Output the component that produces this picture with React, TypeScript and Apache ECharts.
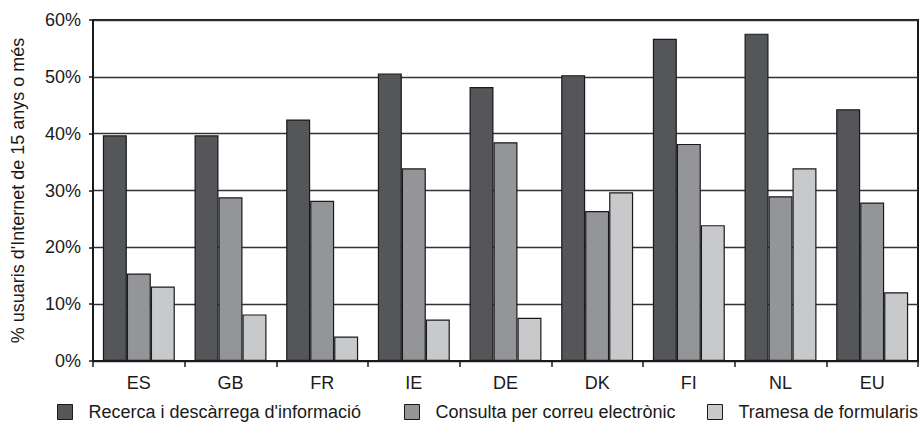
import React, { useEffect, useRef } from "react";
import * as echarts from "echarts";

const categories = ["ES", "GB", "FR", "IE", "DE", "DK", "FI", "NL", "EU"];
const seriesNames = [
  "Recerca i descàrrega d'informació",
  "Consulta per correu electrònic",
  "Tramesa de formularis",
];
const recerca = [39.7, 39.7, 42.5, 50.6, 48.2, 50.3, 56.7, 57.6, 44.3];
const consulta = [15.4, 28.8, 28.2, 33.9, 38.5, 26.4, 38.2, 29.0, 27.9];
const tramesa = [13.1, 8.2, 4.3, 7.3, 7.6, 29.7, 23.9, 33.9, 12.1];
const yTicks = [0, 10, 20, 30, 40, 50, 60];
const yAxisName = "% usuaris d'Internet de 15 anys o més";

const colors = ["#55565a", "#949599", "#c8c9cb"];
const FONT = "'Liberation Sans', Arial, sans-serif";

export default function App() {
  const ref = useRef<HTMLDivElement>(null);
  useEffect(() => {
    if (!ref.current) return;
    const chart = echarts.init(ref.current, null, { renderer: "svg" });
    const values = [recerca, consulta, tramesa];
    const legendLefts = [57, 404, 707];
    chart.setOption({
      animation: false,
      backgroundColor: "#ffffff",
      textStyle: { fontFamily: FONT },
      grid: {
        left: 93,
        top: 20,
        right: 6,
        bottom: 63,
        show: true,
        borderColor: "#1a1a1a",
        borderWidth: 2,
        backgroundColor: "transparent",
      },
      legend: seriesNames.map((n, i) => ({
        data: [n],
        left: legendLefts[i],
        top: 403,
        icon: "rect",
        itemWidth: 15,
        itemHeight: 15,
        itemGap: 0,
        padding: 0,
        textStyle: { fontSize: 18, color: "#1a1a1a", fontFamily: FONT, padding: [0, 0, 0, 11] },
        itemStyle: { borderColor: "#1a1a1a", borderWidth: 1 },
      })),
      xAxis: {
        type: "category",
        data: categories,
        axisLine: { show: true, lineStyle: { color: "#1a1a1a", width: 2 } },
        axisTick: { show: true, length: 6, lineStyle: { color: "#1a1a1a", width: 1.5 } },
        axisLabel: { fontSize: 18, color: "#1a1a1a", fontFamily: FONT, margin: 13 },
        splitLine: { show: false },
      },
      yAxis: {
        type: "value",
        min: yTicks[0],
        max: yTicks[yTicks.length - 1],
        interval: 10,
        name: yAxisName,
        nameLocation: "middle",
        nameGap: 66,
        nameRotate: 90,
        nameTextStyle: { fontSize: 18, color: "#1a1a1a", fontFamily: FONT },
        axisLine: { show: true, lineStyle: { color: "#1a1a1a", width: 2 } },
        axisTick: { show: true, length: 4, lineStyle: { color: "#1a1a1a", width: 1.5 } },
        axisLabel: {
          fontSize: 18,
          color: "#1a1a1a",
          fontFamily: FONT,
          margin: 12,
          formatter: (v: number) => v + "%",
        },
        splitLine: { show: true, lineStyle: { color: "#333", width: 1.3 } },
      },
      series: seriesNames.map((n, i) => ({
        name: n,
        type: "bar",
        data: values[i],
        barGap: "0%",
        barCategoryGap: "21.5%",
        itemStyle: { color: colors[i], borderColor: "#1a1a1a", borderWidth: 1.2 },
      })),
    });
    return () => chart.dispose();
  }, []);
  return (
    <div
      ref={ref}
      style={{ position: "fixed", left: 0, top: 0, width: 924, height: 424, background: "#fff" }}
    />
  );
}
